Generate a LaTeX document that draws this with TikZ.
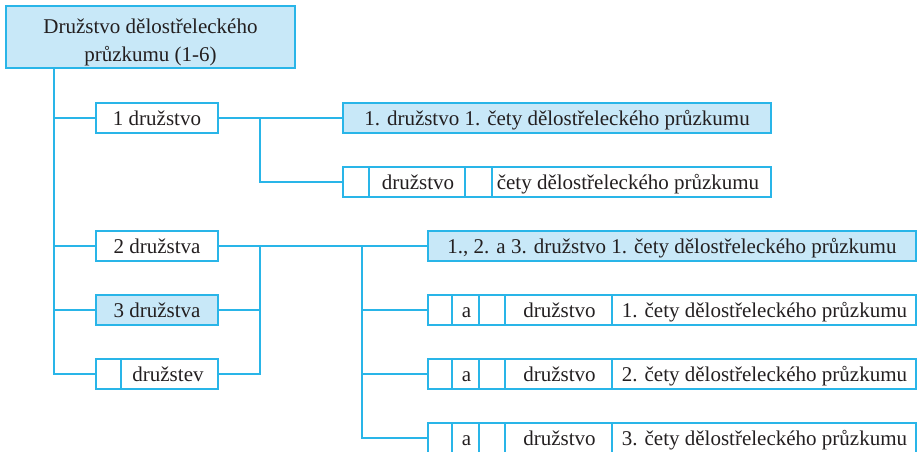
\documentclass[tikz,border=0pt]{standalone}
\usepackage{fontspec}
\setmainfont{Liberation Serif}
\usetikzlibrary{calc}
\definecolor{lc}{HTML}{29B5E8}
\definecolor{fc}{HTML}{C8E8F8}
\definecolor{tc}{HTML}{231F20}
\begin{document}
\begin{tikzpicture}[x=1pt,y=-1pt,
  fnt/.style={font=\fontsize{21}{25}\selectfont},
  box/.style={draw=lc, line width=2pt, minimum height=30pt, inner sep=0pt, text=tc, fnt, text height=14pt, text depth=0pt},
  hi/.style={fill=fc},
  txt/.style={text=tc, fnt, inner sep=0pt, text height=14pt, text depth=0pt},
  conn/.style={draw=lc, line width=2pt},
  divider/.style={draw=lc, line width=2pt}
]
\useasboundingbox (0,0) rectangle (919,451);
\clip (0,0) rectangle (919,451);

% connector junction columns
\coordinate (tr) at (54,0);
\coordinate (ja) at (260,0);
\coordinate (jc) at (362,0);

% title box
\node[box, hi, minimum width=289pt, minimum height=62pt] (top) at (150.5,37) {};
\node[txt, anchor=base, text height=, text depth=] (t1) at (150.5,33) {Družstvo dělostřeleckého};
\node[txt, anchor=base, text height=, text depth=] (t2) at (150.5,61) {průzkumu (1-6)};

% level 1
\node[box, minimum width=122pt] (b1) at (157,118) {1 družstvo};
\node[box, minimum width=122pt] (b2) at (157,246) {2 družstva};
\node[box, hi, minimum width=122pt] (b3) at (157,310) {3 družstva};
\node[box, minimum width=122pt] (b4) at (157,374) {};
\draw[divider] ([xshift=26pt]b4.north west) -- ([xshift=26pt]b4.south west);
\node[txt] (b4t) at (168,374) {družstev};

% trunk from the title box to the level-1 boxes
\draw[conn] (top.south -| tr) |- (b4.west);
\draw[conn] (b1.west -| tr) -- (b1.west);
\draw[conn] (b2.west -| tr) -- (b2.west);
\draw[conn] (b3.west -| tr) -- (b3.west);

% level 2, branch A
\node[box, hi, minimum width=428pt] (A1) at (557,118) {1. družstvo 1. čety dělostřeleckého průzkumu};
\node[box, minimum width=428pt] (A2) at (557,182) {};
\foreach \o in {27,123,150} {\draw[divider] ([xshift=\o pt]A2.north west) -- ([xshift=\o pt]A2.south west);}
\node[txt] (A2a) at (418,182) {družstvo};
\node[txt] (A2b) at (628,182) {čety dělostřeleckého průzkumu};

% level 2, branch C
\node[box, hi, minimum width=488pt] (C1) at (672,246) {1., 2. a 3. družstvo 1. čety dělostřeleckého průzkumu};
\foreach \n/\y/\k in {C2/310/1,C3/374/2,C4/438/3} {
  \node[box, minimum width=488pt] (\n) at (672,\y) {};
  \foreach \o in {25,52,78,185} {\draw[divider] ([xshift=\o pt]\n.north west) -- ([xshift=\o pt]\n.south west);}
  \node[txt] (\n a) at (466.5,\y) {a};
  \node[txt] (\n b) at (559.5,\y) {družstvo};
  \node[txt] (\n c) at (764.5,\y) {\k. čety dělostřeleckého průzkumu};
}

% connectors between boxes
\draw[conn] (b1.east) -- (A1.west);
\draw[conn] (b1.east -| ja) |- (A2.west);
\draw[conn] (b2.east) -- (C1.west);
\draw[conn] (b2.east -| ja) |- (b4.east);
\draw[conn] (b3.east) -- (b3.east -| ja);
\draw[conn] (C1.west -| jc) |- (C4.west);
\draw[conn] (C2.west -| jc) -- (C2.west);
\draw[conn] (C3.west -| jc) -- (C3.west);
\end{tikzpicture}
\end{document}
